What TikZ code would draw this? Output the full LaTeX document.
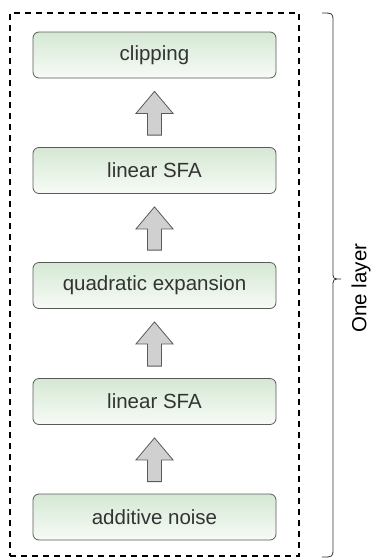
\documentclass[tikz,border=0pt]{standalone}
\usepackage{fontspec}
\setmainfont{Liberation Sans}
\usetikzlibrary{calc}
\definecolor{boxtop}{HTML}{D5E8D4}
\definecolor{boxbot}{HTML}{F7FBF6}
\definecolor{boxline}{HTML}{5A5A5A}
\definecolor{txt}{HTML}{333333}
\definecolor{arrfill}{HTML}{D0D0D0}
\begin{document}
\begin{tikzpicture}[x=1pt,y=-1pt,
  stage/.style={draw=boxline, line width=0.8pt, rounded corners=6pt,
    top color=boxtop, bottom color=boxbot, minimum width=243pt,
    minimum height=46pt, inner sep=0pt, text=txt,
    font=\fontsize{20.5}{24}\selectfont},
  fatarrow/.style={draw=boxline, fill=arrfill, line width=0.8pt, line join=miter}]
  \useasboundingbox (0,0) rectangle (374,560);

  % dashed frame around the layer
  \node (layer) [draw=black, line width=1.9pt, dash pattern=on 6pt off 5pt,
    minimum width=289pt, minimum height=543pt, inner sep=0pt] at (154.5,284.5) {};

  % processing stages, bottom to top
  \node (clip)  [stage] at (154.5,55)    {clipping};
  \node (sfa2)  [stage] at (154.5,170.5) {linear SFA};
  \node (quad)  [stage] at (154.5,285.5) {quadratic expansion};
  \node (sfa1)  [stage] at (154.5,401.5) {linear SFA};
  \node (noise) [stage] at (154.5,517)   {additive noise};

  % block arrows pointing upward between stages
  \foreach \lo/\hi in {noise/sfa1, sfa1/quad, quad/sfa2, sfa2/clip}{
    \coordinate (t) at ($(\hi.south)+(0,13)$);
    \coordinate (b) at ($(\lo.north)+(0,-12)$);
    \draw[fatarrow] (t) -- ($(t)+(18.5,22)$) -- ($(t)+(7,22)$) -- ($(b)+(7,0)$)
      -- ($(b)+(-7,0)$) -- ($(t)+(-7,22)$) -- ($(t)+(-18.5,22)$) -- cycle;
  }

  % curly brace spanning the whole layer
  \coordinate (btop) at (322,13);
  \coordinate (bbot) at (322,557);
  \coordinate (btip) at (341,279);
  \draw[line width=0.8pt, black!80]
    (btop) .. controls (333,13) .. (333,22) -- (333,271)
    .. controls (333,279) .. (btip)
    .. controls (333,279) .. (333,287) -- (333,548)
    .. controls (333,557) .. (bbot);
  \node (lbl) [rotate=90, font=\fontsize{20.5}{24}\selectfont, text=black, inner sep=0pt]
    at (361,288) {One layer};
\end{tikzpicture}
\end{document}
